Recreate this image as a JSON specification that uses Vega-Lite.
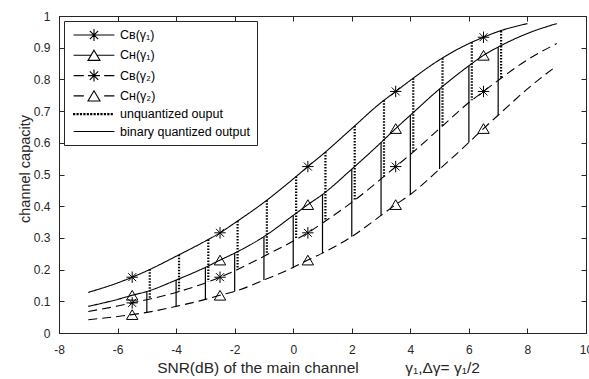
{
  "$schema": "https://vega.github.io/schema/vega-lite/v6.json",
  "width": 527,
  "height": 317,
  "autosize": {"type": "none"},
  "padding": {"left": 59, "top": 16, "right": 3, "bottom": 46},
  "background": "white",
  "config": {
    "font": "Liberation Sans",
    "view": {"stroke": "#262626", "strokeWidth": 1},
    "axis": {
      "domainColor": "#262626",
      "tickColor": "#262626",
      "labelColor": "#262626",
      "titleColor": "#262626",
      "labelFont": "Liberation Sans",
      "titleFont": "Liberation Sans",
      "labelFontSize": 12,
      "titleFontSize": 14.5,
      "titleFontWeight": "normal",
      "grid": false,
      "tickSize": -5,
      "labelFlush": false,
      "labelOverlap": false
    }
  },
  "datasets": {
    "curves": [
      {"series": "CB1", "x": -7, "y": 0.128}, {"series": "CB1", "x": -6, "y": 0.158}, {"series": "CB1", "x": -5.5, "y": 0.176},
      {"series": "CB1", "x": -5, "y": 0.196}, {"series": "CB1", "x": -4, "y": 0.242}, {"series": "CB1", "x": -3, "y": 0.290},
      {"series": "CB1", "x": -2.5, "y": 0.316}, {"series": "CB1", "x": -2, "y": 0.347}, {"series": "CB1", "x": -1, "y": 0.412},
      {"series": "CB1", "x": 0, "y": 0.486}, {"series": "CB1", "x": 0.5, "y": 0.525}, {"series": "CB1", "x": 1, "y": 0.563},
      {"series": "CB1", "x": 2, "y": 0.645}, {"series": "CB1", "x": 3, "y": 0.727}, {"series": "CB1", "x": 3.5, "y": 0.762},
      {"series": "CB1", "x": 4, "y": 0.797}, {"series": "CB1", "x": 5, "y": 0.862}, {"series": "CB1", "x": 6, "y": 0.913},
      {"series": "CB1", "x": 6.5, "y": 0.933}, {"series": "CB1", "x": 7, "y": 0.951}, {"series": "CB1", "x": 8, "y": 0.976},

      {"series": "CH1", "x": -7, "y": 0.084}, {"series": "CH1", "x": -6, "y": 0.106}, {"series": "CH1", "x": -5.5, "y": 0.119},
      {"series": "CH1", "x": -5, "y": 0.131}, {"series": "CH1", "x": -4, "y": 0.167}, {"series": "CH1", "x": -3, "y": 0.207},
      {"series": "CH1", "x": -2.5, "y": 0.230}, {"series": "CH1", "x": -2, "y": 0.252}, {"series": "CH1", "x": -1, "y": 0.304},
      {"series": "CH1", "x": 0, "y": 0.371}, {"series": "CH1", "x": 0.5, "y": 0.405}, {"series": "CH1", "x": 1, "y": 0.437},
      {"series": "CH1", "x": 2, "y": 0.517}, {"series": "CH1", "x": 3, "y": 0.601}, {"series": "CH1", "x": 3.5, "y": 0.645},
      {"series": "CH1", "x": 4, "y": 0.687}, {"series": "CH1", "x": 5, "y": 0.770}, {"series": "CH1", "x": 6, "y": 0.843},
      {"series": "CH1", "x": 6.5, "y": 0.876}, {"series": "CH1", "x": 7, "y": 0.902}, {"series": "CH1", "x": 8, "y": 0.945},
      {"series": "CH1", "x": 9, "y": 0.976},

      {"series": "CB2", "x": -7, "y": 0.068}, {"series": "CB2", "x": -6, "y": 0.085}, {"series": "CB2", "x": -5.5, "y": 0.095},
      {"series": "CB2", "x": -5, "y": 0.105}, {"series": "CB2", "x": -4, "y": 0.128}, {"series": "CB2", "x": -3, "y": 0.158},
      {"series": "CB2", "x": -2.5, "y": 0.176}, {"series": "CB2", "x": -2, "y": 0.196}, {"series": "CB2", "x": -1, "y": 0.242},
      {"series": "CB2", "x": 0, "y": 0.290}, {"series": "CB2", "x": 0.5, "y": 0.316}, {"series": "CB2", "x": 1, "y": 0.347},
      {"series": "CB2", "x": 2, "y": 0.412}, {"series": "CB2", "x": 3, "y": 0.486}, {"series": "CB2", "x": 3.5, "y": 0.525},
      {"series": "CB2", "x": 4, "y": 0.563}, {"series": "CB2", "x": 5, "y": 0.645}, {"series": "CB2", "x": 6, "y": 0.727},
      {"series": "CB2", "x": 6.5, "y": 0.762}, {"series": "CB2", "x": 7, "y": 0.797}, {"series": "CB2", "x": 8, "y": 0.862},
      {"series": "CB2", "x": 9, "y": 0.913},

      {"series": "CH2", "x": -7, "y": 0.042}, {"series": "CH2", "x": -6, "y": 0.052}, {"series": "CH2", "x": -5.5, "y": 0.058},
      {"series": "CH2", "x": -5, "y": 0.065}, {"series": "CH2", "x": -4, "y": 0.084}, {"series": "CH2", "x": -3, "y": 0.106},
      {"series": "CH2", "x": -2.5, "y": 0.119}, {"series": "CH2", "x": -2, "y": 0.131}, {"series": "CH2", "x": -1, "y": 0.167},
      {"series": "CH2", "x": 0, "y": 0.207}, {"series": "CH2", "x": 0.5, "y": 0.230}, {"series": "CH2", "x": 1, "y": 0.252},
      {"series": "CH2", "x": 2, "y": 0.304}, {"series": "CH2", "x": 3, "y": 0.371}, {"series": "CH2", "x": 3.5, "y": 0.405},
      {"series": "CH2", "x": 4, "y": 0.437}, {"series": "CH2", "x": 5, "y": 0.517}, {"series": "CH2", "x": 6, "y": 0.601},
      {"series": "CH2", "x": 6.5, "y": 0.645}, {"series": "CH2", "x": 7, "y": 0.687}, {"series": "CH2", "x": 8, "y": 0.770},
      {"series": "CH2", "x": 9, "y": 0.843}
    ],
    "segments": [
      {"kind": "unquantized", "x": -4.9, "top": 0.201, "bottom": 0.107},
      {"kind": "unquantized", "x": -3.9, "top": 0.247, "bottom": 0.131},
      {"kind": "unquantized", "x": -2.9, "top": 0.295, "bottom": 0.162},
      {"kind": "unquantized", "x": -1.9, "top": 0.353, "bottom": 0.201},
      {"kind": "unquantized", "x": -0.9, "top": 0.419, "bottom": 0.247},
      {"kind": "unquantized", "x": 0.1, "top": 0.494, "bottom": 0.295},
      {"kind": "unquantized", "x": 1.1, "top": 0.571, "bottom": 0.353},
      {"kind": "unquantized", "x": 2.1, "top": 0.653, "bottom": 0.419},
      {"kind": "unquantized", "x": 3.1, "top": 0.734, "bottom": 0.494},
      {"kind": "unquantized", "x": 4.1, "top": 0.804, "bottom": 0.571},
      {"kind": "unquantized", "x": 5.1, "top": 0.867, "bottom": 0.653},
      {"kind": "unquantized", "x": 6.1, "top": 0.917, "bottom": 0.734},
      {"kind": "unquantized", "x": 7.1, "top": 0.953, "bottom": 0.804},
      {"kind": "binary", "x": -5, "top": 0.131, "bottom": 0.065},
      {"kind": "binary", "x": -4, "top": 0.167, "bottom": 0.084},
      {"kind": "binary", "x": -3, "top": 0.207, "bottom": 0.106},
      {"kind": "binary", "x": -2, "top": 0.252, "bottom": 0.131},
      {"kind": "binary", "x": -1, "top": 0.304, "bottom": 0.167},
      {"kind": "binary", "x": 0, "top": 0.371, "bottom": 0.207},
      {"kind": "binary", "x": 1, "top": 0.437, "bottom": 0.252},
      {"kind": "binary", "x": 2, "top": 0.517, "bottom": 0.304},
      {"kind": "binary", "x": 3, "top": 0.601, "bottom": 0.371},
      {"kind": "binary", "x": 4, "top": 0.687, "bottom": 0.437},
      {"kind": "binary", "x": 5, "top": 0.770, "bottom": 0.517},
      {"kind": "binary", "x": 6, "top": 0.843, "bottom": 0.601},
      {"kind": "binary", "x": 7, "top": 0.902, "bottom": 0.687}
    ]
  },
  "layer": [
    {
      "data": {"name": "curves"},
      "mark": {"type": "line", "color": "black", "strokeWidth": 1.1, "interpolate": "monotone"},
      "encoding": {
        "x": {
          "field": "x", "type": "quantitative",
          "scale": {"domain": [-8, 10], "nice": false, "zero": false},
          "axis": {
            "orient": "bottom",
            "values": [-8, -6, -4, -2, 0, 2, 4, 6, 8, 10],
            "labelExpr": "'' + datum.value",
            "labelPadding": 16,
            "title": "SNR(dB) of the main channel\u2003\u2003\u2003γ₁,Δγ= γ₁/2",
            "titleFontSize": 15.5,
            "titleX": 259,
            "titleY": 39,
            "titleAlign": "center",
            "titleBaseline": "alphabetic"
          }
        },
        "y": {
          "field": "y", "type": "quantitative",
          "scale": {"domain": [0, 1], "nice": false},
          "axis": {
            "orient": "left",
            "values": [0, 0.1, 0.2, 0.3, 0.4, 0.5, 0.6, 0.7, 0.8, 0.9, 1],
            "labelExpr": "'' + datum.value",
            "labelPadding": 14,
            "title": "channel capacity",
            "titleX": -29.5,
            "titleY": 152.5,
            "titleAngle": -90,
            "titleAlign": "center",
            "titleBaseline": "alphabetic"
          }
        },
        "detail": {"field": "series"},
        "strokeDash": {
          "field": "series", "type": "nominal",
          "scale": {"domain": ["CB1", "CH1", "CB2", "CH2"], "range": [[1, 0], [1, 0], [9, 5], [9, 5]]},
          "legend": null
        }
      }
    },
    {
      "data": {"name": "segments"},
      "transform": [{"filter": "datum.kind == 'unquantized'"}],
      "mark": {"type": "rule", "color": "black", "strokeWidth": 2.2, "strokeDash": [1.5, 1.5]},
      "encoding": {
        "x": {
          "field": "x", "type": "quantitative",
          "axis": {"orient": "top", "labels": false, "title": null, "values": [-8, -6, -4, -2, 0, 2, 4, 6, 8, 10]}
        },
        "y": {
          "field": "top", "type": "quantitative",
          "axis": {"orient": "right", "labels": false, "title": null, "values": [0, 0.1, 0.2, 0.3, 0.4, 0.5, 0.6, 0.7, 0.8, 0.9, 1]}
        },
        "y2": {"field": "bottom"}
      }
    },
    {
      "data": {"name": "segments"},
      "transform": [{"filter": "datum.kind == 'binary'"}],
      "mark": {"type": "rule", "color": "black", "strokeWidth": 1.2},
      "encoding": {
        "x": {"field": "x", "type": "quantitative", "axis": null},
        "y": {"field": "top", "type": "quantitative", "axis": null},
        "y2": {"field": "bottom"}
      }
    },
    {
      "data": {"name": "curves"},
      "transform": [
        {"filter": "(datum.series == 'CB1' || datum.series == 'CB2') && (datum.x == -5.5 || datum.x == -2.5 || datum.x == 0.5 || datum.x == 3.5 || datum.x == 6.5)"}
      ],
      "mark": {
        "type": "point", "filled": false, "color": "black", "strokeWidth": 1, "opacity": 1, "size": 130,
        "shape": "M0,-1L0,1M-1,0L1,0M-0.7,-0.7L0.7,0.7M-0.7,0.7L0.7,-0.7"
      },
      "encoding": {
        "x": {"field": "x", "type": "quantitative", "axis": null},
        "y": {"field": "y", "type": "quantitative", "axis": null}
      }
    },
    {
      "data": {"name": "curves"},
      "transform": [
        {"filter": "(datum.series == 'CH1' || datum.series == 'CH2') && (datum.x == -5.5 || datum.x == -2.5 || datum.x == 0.5 || datum.x == 3.5 || datum.x == 6.5)"}
      ],
      "mark": {
        "type": "point", "filled": false, "color": "black", "strokeWidth": 1, "opacity": 1, "size": 130,
        "shape": "M0,-0.85L1,0.85L-1,0.85Z"
      },
      "encoding": {
        "x": {"field": "x", "type": "quantitative", "axis": null},
        "y": {"field": "y", "type": "quantitative", "axis": null}
      }
    },
    {
      "data": {"values": []},
      "mark": {"type": "point", "filled": false, "color": "black", "opacity": 1},
      "encoding": {
        "shape": {
          "field": "entry", "type": "nominal",
          "scale": {
            "domain": ["Cʙ(γ₁)", "Cʜ(γ₁)", "Cʙ(γ₂)", "Cʜ(γ₂)", "unquantized ouput", "binary quantized output\u2003\u2003"],
            "range": [
              "M-3.4,0L3.4,0M0,-1L0,1M-1,0L1,0M-0.7,-0.7L0.7,0.7M-0.7,0.7L0.7,-0.7",
              "M-3.4,0L-0.5,0M0.5,0L3.4,0M0,-0.85L1,0.85L-1,0.85Z",
              "M-3.4,0L-1.7,0M1.7,0L3.4,0M0,-1L0,1M-1,0L1,0M-0.7,-0.7L0.7,0.7M-0.7,0.7L0.7,-0.7",
              "M-3.4,0L-1.7,0M1.7,0L3.4,0M0,-0.85L1,0.85L-1,0.85Z",
              "M-3.4,-0.1h0.18v0.2h-0.18ZM-2.83,-0.1h0.18v0.2h-0.18ZM-2.26,-0.1h0.18v0.2h-0.18ZM-1.69,-0.1h0.18v0.2h-0.18ZM-1.12,-0.1h0.18v0.2h-0.18ZM-0.55,-0.1h0.18v0.2h-0.18ZM0.02,-0.1h0.18v0.2h-0.18ZM0.59,-0.1h0.18v0.2h-0.18ZM1.16,-0.1h0.18v0.2h-0.18ZM1.73,-0.1h0.18v0.2h-0.18ZM2.3,-0.1h0.18v0.2h-0.18ZM2.87,-0.1h0.18v0.2h-0.18Z",
              "M-3.4,0L3.4,0"
            ]
          },
          "legend": {
            "title": null,
            "orient": "top-left",
            "offset": 5,
            "padding": 7,
            "strokeColor": "#262626",
            "fillColor": "white",
            "symbolSize": 144,
            "symbolStrokeWidth": 1.1,
            "symbolStrokeColor": "black",
            "symbolFillColor": "transparent",
            "symbolOpacity": 1,
            "symbolOffset": 16,
            "labelOffset": 19,
            "labelFontSize": 12.5,
            "labelFont": "Liberation Sans",
            "labelColor": "black",
            "labelLimit": 400,
            "rowPadding": 3.3
          }
        }
      }
    }
  ],
  "resolve": {"axis": {"x": "independent", "y": "independent"}}
}
